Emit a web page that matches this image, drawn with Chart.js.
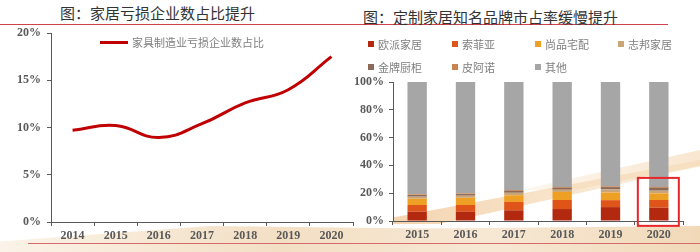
<!DOCTYPE html>
<html>
<head>
<meta charset="utf-8">
<script src="https://cdn.jsdelivr.net/npm/chart.js@4/dist/chart.umd.min.js"></script>
<style>
  body { margin: 0; background: #fff; }
  #wrap { position: relative; width: 700px; height: 252px; overflow: hidden; background: #fff; }
  .deco { position: absolute; }
  .title { position: absolute; font-family: "Noto Sans CJK SC"; font-size: 15px; color: #333; white-space: nowrap; line-height: 1; }
  .rule { position: absolute; height: 1px; background: #d0424a; }
  .lg { position: absolute; font-family: "Noto Sans CJK SC"; font-size: 11px; color: #7f7f7f; white-space: nowrap; line-height: 1; }
  .sq { display: inline-block; width: 6px; height: 6px; margin-right: 4px; vertical-align: 2px; }
  canvas { position: absolute; }
</style>
</head>
<body>
<div id="wrap">
  <!-- background swooshes -->
  <div class="deco" style="left:0;top:226px;width:700px;height:26px;background:linear-gradient(90deg,#fbf3e8,#f3dfc4 40%,#f7e8d4 70%,#f1d9b8);clip-path:polygon(0 60%,30% 0,60% 10%,100% 0,100% 100%,0 100%);"></div>
  <div class="deco" style="left:393px;top:160px;width:307px;height:64px;background:linear-gradient(90deg,rgba(232,160,80,0.45),rgba(245,210,160,0.3));clip-path:polygon(0 90%,100% 0,100% 10%,15% 100%,0 100%);"></div>
  <div class="deco" style="left:520px;top:150px;width:180px;height:40px;background:linear-gradient(90deg,rgba(245,215,175,0.2),rgba(240,200,150,0.45));clip-path:polygon(0 100%,100% 0,100% 40%,30% 100%);"></div>

  <div class="rule" style="left:0;top:24px;width:668px;"></div>
  <div class="rule" style="left:28px;top:243px;width:672px;background:#d46a6a;"></div>

  <div class="title" style="left:60px;top:5px;">图：家居亏损企业数占比提升</div>
  <div class="title" style="left:363px;top:9px;">图：定制家居知名品牌市占率缓慢提升</div>

  <canvas id="left" width="360" height="252" style="left:0;top:0;"></canvas>
  <canvas id="right" width="360" height="252" style="left:340px;top:0;"></canvas>

  <div class="lg" style="left:100px;top:37px;"><span style="display:inline-block;width:28px;height:3px;background:#c00000;vertical-align:3px;margin-right:4px;"></span>家具制造业亏损企业数占比</div>
  <div id="barLegend"></div>
</div>
<script>
//*Data
const years = ['2014', '2015', '2016', '2017', '2018', '2019', '2020']
const lossShare = [9.7, 10.2, 8.95, 10.4, 12.6, 14.0, 17.5]

const barYears = ['2015', '2016', '2017', '2018', '2019', '2020']
const oppein = [6.7, 6.7, 7.7, 8.6, 10.0, 9.6]
const sofia = [4.8, 4.8, 6.0, 6.5, 5.0, 5.5]
const shangpin = [4.5, 5.2, 4.8, 5.8, 5.5, 4.8]
const zbom = [1.5, 1.5, 1.8, 1.6, 2.2, 1.9]
const goldenHome = [1.2, 1.2, 1.4, 1.4, 1.7, 2.0]
const piano = [0.5, 0.5, 0.6, 0.6, 0.6, 0.7]
const others = barYears.map((y, i) => +(100 - oppein[i] - sofia[i] - shangpin[i] - zbom[i] - goldenHome[i] - piano[i]).toFixed(1))

const seriesNames = ['欧派家居', '索菲亚', '尚品宅配', '志邦家居', '金牌厨柜', '皮阿诺', '其他']
const seriesColors = ['#b3290f', '#df5418', '#eea024', '#c9a57a', '#8c6a5a', '#c98450', '#a6a6a6']

//*Shared axis styling
const tickFont = { family: 'Liberation Serif', size: 12, weight: 'bold' }
const axisGrey = '#595959'

//*Line chart
new Chart(document.getElementById('left'), {
  type: 'line',
  data: {
    labels: years,
    datasets: [{
      label: '家具制造业亏损企业数占比',
      data: lossShare,
      borderColor: '#c00000',
      borderWidth: 3,
      pointRadius: 0,
      tension: 0.45,
      fill: false,
    }],
  },
  options: {
    responsive: false,
    animation: false,
    layout: { padding: { top: 33, right: 7, left: 0, bottom: 0 } },
    plugins: { legend: { display: false }, tooltip: { enabled: false } },
    scales: {
      x: {
        offset: true,
        grid: { offset: true, drawOnChartArea: false, color: axisGrey, tickLength: 4 },
        border: { color: axisGrey },
        ticks: { font: tickFont, color: axisGrey, maxRotation: 0, padding: 3 },
        afterFit: s => { s.height = 30 },
      },
      y: {
        min: 0, max: 20,
        grid: { drawOnChartArea: false, color: axisGrey, tickLength: 4 },
        border: { color: axisGrey },
        ticks: { stepSize: 5, font: tickFont, color: axisGrey, padding: 6, callback: v => v + '%' },
        afterFit: s => { s.width = 51 },
      },
    },
  },
})

//*Stacked bar chart
const barData = [oppein, sofia, shangpin, zbom, goldenHome, piano, others]
new Chart(document.getElementById('right'), {
  type: 'bar',
  data: {
    labels: barYears,
    datasets: barData.map((d, i) => ({
      label: seriesNames[i],
      data: d,
      backgroundColor: seriesColors[i],
      categoryPercentage: 1,
      barPercentage: 0.4,
    })),
  },
  options: {
    responsive: false,
    animation: false,
    layout: { padding: { top: 82, right: 17, left: 0, bottom: 0 } },
    plugins: { legend: { display: false }, tooltip: { enabled: false } },
    scales: {
      x: {
        stacked: true,
        grid: { drawOnChartArea: false, color: axisGrey, tickLength: 4 },
        border: { color: axisGrey },
        ticks: { font: tickFont, color: axisGrey, maxRotation: 0, padding: 3 },
        afterFit: s => { s.height = 31 },
      },
      y: {
        stacked: true,
        min: 0, max: 100,
        grid: { drawOnChartArea: false, color: axisGrey, tickLength: 4 },
        border: { color: axisGrey },
        ticks: { stepSize: 20, font: tickFont, color: axisGrey, padding: 5, callback: v => v + '%' },
        afterFit: s => { s.width = 53 },
      },
    },
  },
  plugins: [{
    //*Red highlight box round the 2020 bar
    id: 'highlight',
    afterDatasetsDraw(chart) {
      const x = chart.scales.x.getPixelForValue(5)
      const y = chart.scales.y
      const ctx = chart.ctx
      ctx.save()
      ctx.strokeStyle = '#e8262a'
      ctx.lineWidth = 2
      ctx.strokeRect(x - 21, y.getPixelForValue(31), 41, y.getPixelForValue(-3.5) - y.getPixelForValue(31))
      ctx.restore()
    },
  }],
})

//*Bar legend
const legendPos = [[368, 39], [452, 39], [535, 39], [618, 39], [368, 62], [452, 62], [535, 62]]
const barLegend = document.getElementById('barLegend')
barLegend.innerHTML = seriesNames.map((n, i) =>
  `<div class="lg" style="left:${legendPos[i][0]}px;top:${legendPos[i][1]}px;"><span class="sq" style="background:${seriesColors[i]}"></span>${n}</div>`
).join('')
</script>
</body>
</html>
